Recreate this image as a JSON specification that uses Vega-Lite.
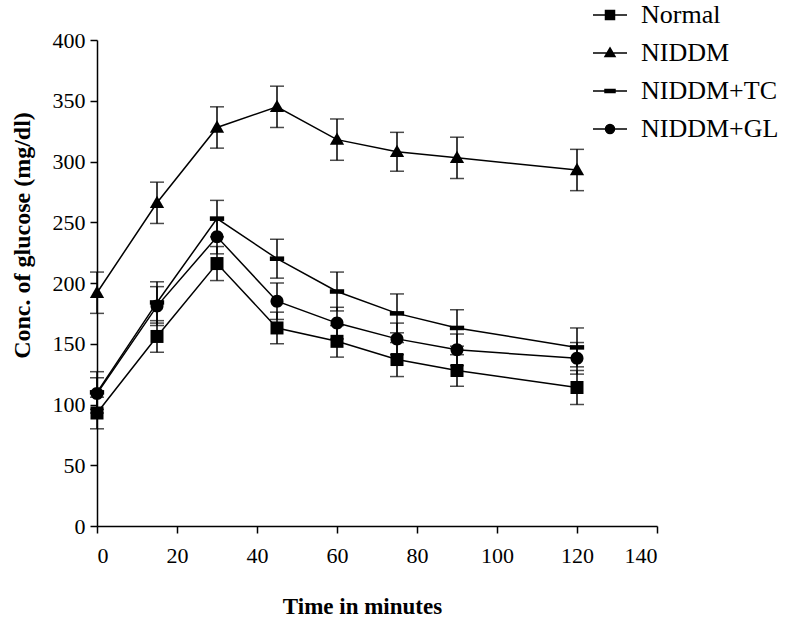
{
  "$schema": "https://vega.github.io/schema/vega-lite/v6.json",
  "width": 560,
  "height": 486,
  "autosize": {"type": "none"},
  "padding": {"left": 97, "top": 40, "right": 128, "bottom": 92},
  "background": "white",
  "config": {"view": {"stroke": null}, "font": "Liberation Serif"},
  "data": {
    "values": [
      {"time": 0, "group": "Normal", "glucose": 93, "se": 13},
      {"time": 15, "group": "Normal", "glucose": 156, "se": 13},
      {"time": 30, "group": "Normal", "glucose": 216, "se": 14},
      {"time": 45, "group": "Normal", "glucose": 163, "se": 13},
      {"time": 60, "group": "Normal", "glucose": 152, "se": 13},
      {"time": 75, "group": "Normal", "glucose": 137, "se": 14},
      {"time": 90, "group": "Normal", "glucose": 128, "se": 13},
      {"time": 120, "group": "Normal", "glucose": 114, "se": 14},
      {"time": 0, "group": "NIDDM", "glucose": 192, "se": 17},
      {"time": 15, "group": "NIDDM", "glucose": 266, "se": 17},
      {"time": 30, "group": "NIDDM", "glucose": 328, "se": 17},
      {"time": 45, "group": "NIDDM", "glucose": 345, "se": 17},
      {"time": 60, "group": "NIDDM", "glucose": 318, "se": 17},
      {"time": 75, "group": "NIDDM", "glucose": 308, "se": 16},
      {"time": 90, "group": "NIDDM", "glucose": 303, "se": 17},
      {"time": 120, "group": "NIDDM", "glucose": 293, "se": 17},
      {"time": 0, "group": "NIDDM+TC", "glucose": 110, "se": 17},
      {"time": 15, "group": "NIDDM+TC", "glucose": 184, "se": 17},
      {"time": 30, "group": "NIDDM+TC", "glucose": 253, "se": 15},
      {"time": 45, "group": "NIDDM+TC", "glucose": 220, "se": 16},
      {"time": 60, "group": "NIDDM+TC", "glucose": 193, "se": 16},
      {"time": 75, "group": "NIDDM+TC", "glucose": 175, "se": 16},
      {"time": 90, "group": "NIDDM+TC", "glucose": 163, "se": 15},
      {"time": 120, "group": "NIDDM+TC", "glucose": 147, "se": 16},
      {"time": 0, "group": "NIDDM+GL", "glucose": 109, "se": 13},
      {"time": 15, "group": "NIDDM+GL", "glucose": 181, "se": 16},
      {"time": 30, "group": "NIDDM+GL", "glucose": 238, "se": 14},
      {"time": 45, "group": "NIDDM+GL", "glucose": 185, "se": 15},
      {"time": 60, "group": "NIDDM+GL", "glucose": 167, "se": 13},
      {"time": 75, "group": "NIDDM+GL", "glucose": 154, "se": 13},
      {"time": 90, "group": "NIDDM+GL", "glucose": 145, "se": 13},
      {"time": 120, "group": "NIDDM+GL", "glucose": 138, "se": 13}
    ]
  },
  "encoding": {
    "x": {
      "field": "time",
      "type": "quantitative",
      "scale": {"domain": [0, 140], "nice": false, "zero": false},
      "axis": {
        "title": "Time in minutes",
        "values": [0, 20, 40, 60, 80, 100, 120, 140],
        "grid": false,
        "domainColor": "black",
        "domainWidth": 1.5,
        "tickColor": "black",
        "tickWidth": 1.5,
        "tickSize": 7,
        "labelFont": "Liberation Serif",
        "labelFontSize": 22,
        "labelColor": "black",
        "labelPadding": 12,
        "titleFont": "Liberation Serif",
        "titleFontSize": 23,
        "titleFontWeight": "bold",
        "titleColor": "black",
        "titleX": 265,
        "titleY": 80,
        "titleAlign": "center",
        "titleBaseline": "middle"
      }
    },
    "y": {
      "field": "glucose",
      "type": "quantitative",
      "scale": {"domain": [0, 400], "nice": false},
      "axis": {
        "title": "Conc. of glucose (mg/dl)",
        "values": [0, 50, 100, 150, 200, 250, 300, 350, 400],
        "grid": false,
        "domainColor": "black",
        "domainWidth": 1.5,
        "tickColor": "black",
        "tickWidth": 1.5,
        "tickSize": 7,
        "labelFont": "Liberation Serif",
        "labelFontSize": 22,
        "labelColor": "black",
        "labelPadding": 5,
        "titleFont": "Liberation Serif",
        "titleFontSize": 24,
        "titleFontWeight": "bold",
        "titleColor": "black",
        "titleX": -75,
        "titleY": 195,
        "titleAngle": -90,
        "titleAlign": "center",
        "titleBaseline": "middle"
      }
    }
  },
  "layer": [
    {
      "mark": {
        "type": "errorbar",
        "color": "black",
        "ticks": {"size": 14, "thickness": 1.5, "color": "black"},
        "rule": {"strokeWidth": 1.5, "color": "black"}
      },
      "encoding": {
        "yError": {"field": "se"},
        "detail": {"field": "group"}
      }
    },
    {
      "mark": {"type": "line", "color": "black", "strokeWidth": 1.5},
      "encoding": {"detail": {"field": "group"}}
    },
    {
      "mark": {"type": "point", "filled": true, "color": "black", "size": 169, "opacity": 1},
      "encoding": {
        "shape": {
          "field": "group",
          "type": "nominal",
          "scale": {
            "domain": ["Normal", "NIDDM", "NIDDM+TC", "NIDDM+GL"],
            "range": [
              "M-1,-1H1V1H-1Z",
              "M0,-1.1L1.1,0.8H-1.1Z",
              "M-1.1,-0.35H1.1V0.35H-1.1Z",
              "M-1,0A1,1,0,1,0,1,0A1,1,0,1,0,-1,0Z"
            ]
          },
          "legend": null
        }
      }
    },
    {
      "mark": {"type": "point", "filled": true, "color": "black", "stroke": "black", "strokeWidth": 1.5, "size": 169, "opacity": 0},
      "encoding": {
        "shape": {
          "field": "group",
          "type": "nominal",
          "scale": {
            "domain": ["Normal", "NIDDM", "NIDDM+TC", "NIDDM+GL"],
            "range": [
              "M-3.4,0H3.4M-0.9,-0.9H0.9V0.9H-0.9Z",
              "M-3.4,0H3.4M0,-1L1,0.7H-1Z",
              "M-3.4,0H3.4M-1,-0.3H1V0.3H-1Z",
              "M-3.4,0H3.4M-0.9,0A0.9,0.9,0,1,0,0.9,0A0.9,0.9,0,1,0,-0.9,0Z"
            ]
          },
          "legend": {
            "title": null,
            "orient": "none",
            "legendX": 500,
            "legendY": -38,
            "padding": 0,
            "labelFont": "Liberation Serif",
            "labelFontSize": 26,
            "labelColor": "black",
            "labelOffset": 18,
            "rowPadding": 12,
            "encode": {
              "symbols": {
                "update": {
                  "opacity": {"value": 1},
                  "fill": {"value": "black"},
                  "fillOpacity": {"value": 1},
                  "stroke": {"value": "black"},
                  "strokeOpacity": {"value": 1},
                  "strokeWidth": {"value": 1.5}
                }
              }
            }
          }
        }
      }
    }
  ],
  "resolve": {"scale": {"shape": "independent"}}
}
